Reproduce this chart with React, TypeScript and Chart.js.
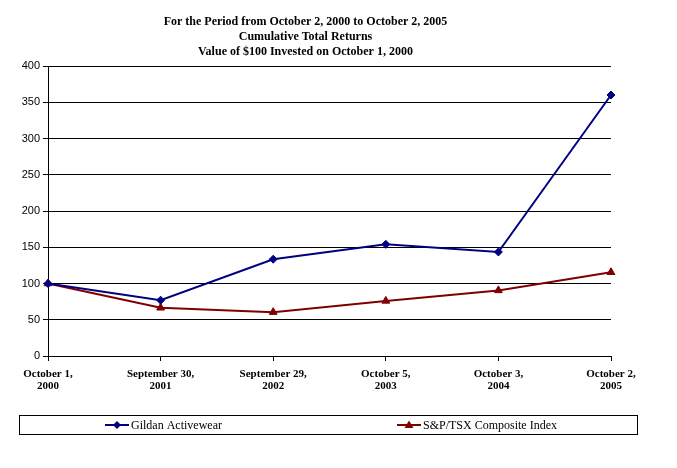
import React, { useEffect, useRef } from "react";
import { Chart, registerables } from "chart.js";

Chart.register(...registerables);

const categories: string[][] = [
  ["October 1,", "2000"],
  ["September 30,", "2001"],
  ["September 29,", "2002"],
  ["October 5,", "2003"],
  ["October 3,", "2004"],
  ["October 2,", "2005"],
];
const gildanValues = [100, 77, 133.5, 154, 143.5, 360];
const spTsxValues = [100, 66.5, 60.5, 76, 90.5, 115.5];
const seriesLabels = ["Gildan Activewear", "S&P/TSX Composite Index"];
const titleLines = [
  "For the Period from October 2, 2000 to October 2, 2005",
  "Cumulative Total Returns",
  "Value of $100 Invested on October 1, 2000",
];
const yMin = 0;
const yMax = 400;
const yStep = 50;

const NAVY = "#000080";
const MAROON = "#800000";

const legendBoxPlugin = {
  id: "legendBox",
  afterDraw(chart: any) {
    const ctx = chart.ctx as CanvasRenderingContext2D;
    ctx.save();
    ctx.strokeStyle = "#000";
    ctx.lineWidth = 1;
    ctx.strokeRect(19.5, 415.5, 618, 19);
    const starts = [105, 397];
    const y = 425;
    chart.data.datasets.forEach((ds: any, i: number) => {
      const x0 = starts[i];
      ctx.strokeStyle = ds.borderColor;
      ctx.fillStyle = ds.borderColor;
      ctx.lineWidth = 2;
      ctx.beginPath();
      ctx.moveTo(x0, y);
      ctx.lineTo(x0 + 24, y);
      ctx.stroke();
      const cx = x0 + 12;
      ctx.beginPath();
      if (ds.pointStyle === "triangle") {
        ctx.moveTo(cx, y - 4.5);
        ctx.lineTo(cx + 4.5, y + 3);
        ctx.lineTo(cx - 4.5, y + 3);
      } else {
        ctx.moveTo(cx, y - 4);
        ctx.lineTo(cx + 4, y);
        ctx.lineTo(cx, y + 4);
        ctx.lineTo(cx - 4, y);
      }
      ctx.closePath();
      ctx.fill();
      ctx.fillStyle = "#000";
      ctx.font = '12px "Liberation Serif"';
      ctx.textBaseline = "middle";
      ctx.textAlign = "left";
      ctx.fillText(ds.label, x0 + 26, y + 1);
    });
    ctx.restore();
  },
};

export default function App() {
  const canvasRef = useRef<HTMLCanvasElement | null>(null);

  useEffect(() => {
    if (!canvasRef.current) return;
    const chart = new Chart(canvasRef.current, {
      type: "line",
      data: {
        labels: categories,
        datasets: [
          {
            label: seriesLabels[0],
            data: gildanValues,
            borderColor: NAVY,
            backgroundColor: NAVY,
            borderWidth: 2,
            pointStyle: "rectRot",
            pointRadius: 4,
            pointBorderWidth: 1,
            tension: 0,
          },
          {
            label: seriesLabels[1],
            data: spTsxValues,
            borderColor: MAROON,
            backgroundColor: MAROON,
            borderWidth: 2,
            pointStyle: "triangle",
            pointRadius: 4.5,
            pointBorderWidth: 1,
            tension: 0,
          },
        ],
      },
      options: {
        animation: false,
        responsive: false,
        maintainAspectRatio: false,
        layout: { padding: { left: 0, right: 66, top: 0, bottom: 72 } },
        plugins: {
          legend: { display: false },
          tooltip: { enabled: false },
          title: {
            display: true,
            text: titleLines,
            color: "#000",
            font: { family: '"Liberation Serif"', size: 12, weight: "bold", lineHeight: 1.25 },
            padding: { top: 14, bottom: 7 },
          },
        },
        scales: {
          x: {
            offset: false,
            grid: {
              display: true,
              drawOnChartArea: false,
              drawTicks: true,
              tickLength: 5,
              tickColor: "#000",
              color: "#000",
            },
            border: { display: true, color: "#000", width: 1 },
            ticks: {
              color: "#000",
              autoSkip: false,
              maxRotation: 0,
              minRotation: 0,
              padding: 7,
              font: { family: '"Liberation Serif"', size: 11, weight: "bold", lineHeight: 1.1 },
            },
            afterFit(scale: any) {
              scale.height = 40;
            },
          },
          y: {
            min: yMin,
            max: yMax,
            grid: {
              color: "#000",
              lineWidth: 1,
              drawTicks: true,
              tickLength: 5,
              tickColor: "#000",
            },
            border: { display: true, color: "#000", width: 1 },
            ticks: {
              stepSize: yStep,
              color: "#000",
              padding: 3,
              font: { family: '"Liberation Sans"', size: 11 },
            },
            afterFit(scale: any) {
              scale.width = 48;
            },
          },
        },
      },
      plugins: [legendBoxPlugin],
    });
    return () => chart.destroy();
  }, []);

  return (
    <div style={{ position: "fixed", left: 0, top: 0, width: 677, height: 468, background: "#fff" }}>
      <canvas ref={canvasRef} width={677} height={468} style={{ display: "block" }} />
    </div>
  );
}
